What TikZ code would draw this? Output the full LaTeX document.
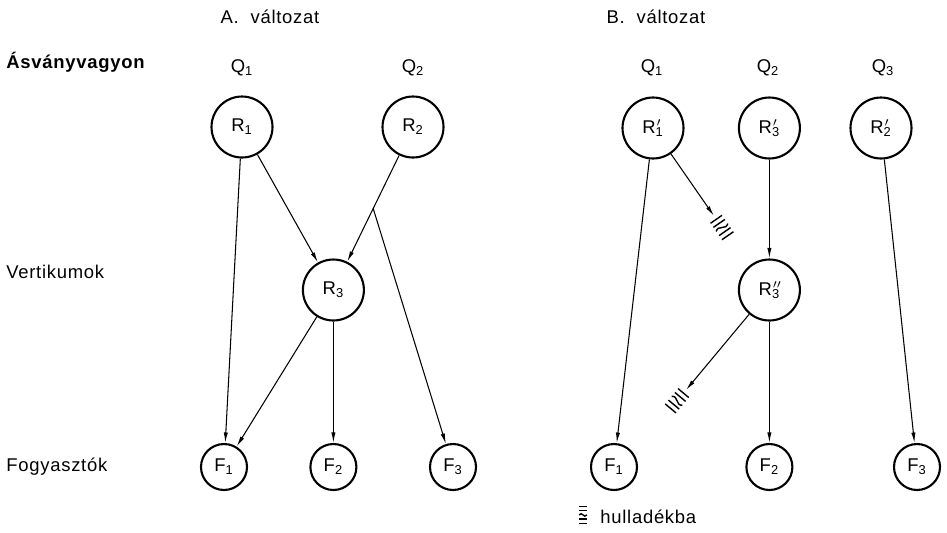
\documentclass[tikz,border=0pt]{standalone}
\usepackage{fontspec}
\setmainfont{Liberation Sans}[LetterSpace=4]
\usetikzlibrary{arrows.meta,calc}
\tikzset{
  res/.style={draw,circle,line width=1.2pt,minimum size=1.22cm,inner sep=0pt,font=\fontsize{10.5}{12}\selectfont},
  fog/.style={draw,circle,line width=1.2pt,minimum size=0.92cm,inner sep=0pt,font=\fontsize{10.5}{12}\selectfont},
  arr/.style={-{Latex[length=6pt,width=2.4pt]},line width=0.6pt},
  lbl/.style={font=\fontsize{10.5}{12}\selectfont},
  hdr/.style={lbl,anchor=west,inner sep=0pt},
  hull/.pic={
    \foreach \s in {4,9,19,24} \draw[line width=0.8pt] (\s,-7) -- (\s,7);
    \draw[line width=0.8pt] (14,-7) .. controls (19,-2) and (9,2) .. (14,7);
  },
}
% letter with prime and index
\newcommand{\ix}[3][]{#2\makebox[0pt][l]{\kern0.5pt$^{#1}$}\textsubscript{#3}}

\begin{document}
\begin{tikzpicture}[x=0.02cm,y=-0.02cm]
 \useasboundingbox (0,0) rectangle (947,532);
 % headings and row labels
 \node[lbl] (tA) at (270,17) {A.\ \ változat};
 \node[lbl] (tB) at (656,17) {B.\ \ változat};
 \node[hdr] (lQ) at (6,62) {\bfseries Ásványvagyon};
 \node[hdr] (lV) at (6,272) {Vertikumok};
 \node[hdr] (lF) at (6,467) {Fogyasztók};
 \foreach \n/\x/\i in {qa1/242/1,qa2/413/2,qb1/652/1,qb2/768/2,qb3/883/3}
   \node[lbl] (\n) at (\x,68) {Q\textsubscript{\i}};

 % resources
 \node[res] (R1) at (242,127) {\ix{R}{1}};
 \node[res] (R2) at (413,127) {\ix{R}{2}};
 \node[res] (R3) at (333.4,290) {\ix{R}{3}};
 \node[res] (Rb1) at (653,128) {\ix[\prime]{R}{1}};
 \node[res] (Rb3) at (769.4,128) {\ix[\prime]{R}{3}};
 \node[res] (Rb2) at (881,128) {\ix[\prime]{R}{2}};
 \node[res] (Rb33) at (769.4,290) {\ix[\prime\prime]{R}{3}};

 % consumers
 \foreach \n/\x/\i in {Fa1/224/1,Fa2/333.4/2,Fa3/453/3,Fb1/614/1,Fb2/769.4/2,Fb3/917/3}
   \node[fog] (\n) at (\x,467) {F\textsubscript{\i}};

 % variant A
 \draw[arr] (R1) -- (Fa1);
 \draw[arr] (R1) -- (R3);
 \draw[arr] (R2) -- (R3);
 \coordinate (ag) at ($(R2)!0.5!(R3)$);
 \draw[arr] (ag) -- (Fa3);
 \draw[arr] (R3) -- (Fa1);
 \draw[arr] (R3) -- (Fa2);

 % variant B
 \coordinate (w1) at (714,216);
 \coordinate (w2) at (686,390);
 \draw[arr] (Rb1) -- (Fb1);
 \draw[arr] (Rb1) -- (w1);
 \draw[arr] (Rb3) -- (Rb33);
 \draw[arr] (Rb33) -- (Fb2);
 \draw[arr] (Rb33) -- (w2);
 \draw[arr] (Rb2) -- (Fb3);

 % waste marks
 \path let \p1=($(w1)-(Rb1)$), \n1={atan2(\y1,\x1)} in pic[rotate=\n1] at (w1) {hull};
 \path let \p1=($(w2)-(Rb33)$), \n1={atan2(\y1,\x1)} in pic[rotate=\n1] at (w2) {hull};

 % legend
 \coordinate (lg) at (583,503);
 \pic[rotate=-90,xscale=0.85,yscale=0.55] at (lg) {hull};
 \node[hdr] (lh) at (600,517) {hulladékba};
\end{tikzpicture}
\end{document}
